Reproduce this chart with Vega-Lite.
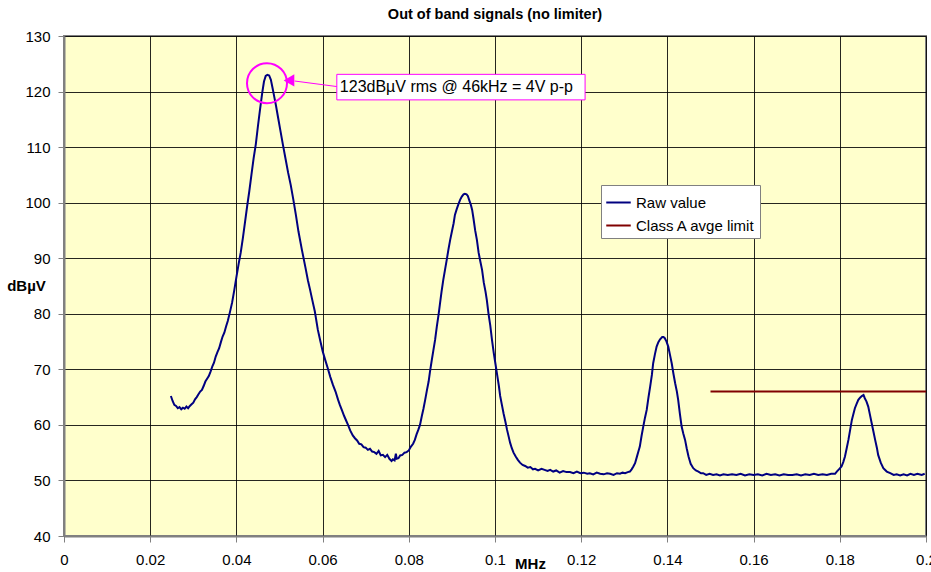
{
  "$schema": "https://vega.github.io/schema/vega-lite/v6.json",
  "autosize": {"type": "none"},
  "width": 862,
  "height": 500,
  "padding": {"left": 64, "top": 36, "right": 5, "bottom": 36},
  "background": "#FFFFFF",
  "title": {"text": "Out of band signals (no limiter)", "font": "Liberation Sans", "fontSize": 14.5, "fontWeight": "bold", "color": "#000000", "offset": 7},
  "config": {
    "view": {"fill": "#FFFFCC", "stroke": "#808080", "strokeWidth": 2},
    "axis": {"labelFont": "Liberation Sans", "labelFontSize": 15, "labelColor": "#000000", "titleFont": "Liberation Sans", "titleFontSize": 15, "titleFontWeight": "bold", "titleColor": "#000000", "domainColor": "#808080", "domainWidth": 2, "tickColor": "#808080", "tickWidth": 1, "tickSize": 6, "gridColor": "#000000", "gridOpacity": 0.85, "gridWidth": 1}
  },
  "datasets": {
    "raw": [
      {"f":0.0248,"v":65.2},{"f":0.0252,"v":64.3},{"f":0.0256,"v":63.6},{"f":0.0260,"v":63.4},{"f":0.0264,"v":63.0},{"f":0.0268,"v":63.2},{"f":0.0272,"v":62.8},{"f":0.0276,"v":63.1},{"f":0.0280,"v":62.9},{"f":0.0284,"v":63.3},{"f":0.0288,"v":63.0},{"f":0.0292,"v":63.4},{"f":0.0296,"v":63.7},{"f":0.0300,"v":64.0},{"f":0.0304,"v":64.6},{"f":0.0308,"v":65.0},{"f":0.0312,"v":65.5},{"f":0.0316,"v":66.0},{"f":0.0320,"v":66.3},{"f":0.0324,"v":67.0},{"f":0.0328,"v":67.8},{"f":0.0332,"v":68.3},{"f":0.0336,"v":68.8},{"f":0.0340,"v":69.6},{"f":0.0344,"v":70.5},{"f":0.0348,"v":71.2},{"f":0.0352,"v":72.3},{"f":0.0356,"v":73.1},{"f":0.0360,"v":73.8},{"f":0.0364,"v":74.9},{"f":0.0368,"v":75.9},{"f":0.0372,"v":76.6},{"f":0.0376,"v":77.7},{"f":0.0380,"v":78.7},{"f":0.0385,"v":80.3},{"f":0.0390,"v":82.0},{"f":0.0395,"v":84.2},{"f":0.0400,"v":86.6},{"f":0.0405,"v":88.9},{"f":0.0410,"v":91.0},{"f":0.0415,"v":93.6},{"f":0.0420,"v":96.5},{"f":0.0425,"v":99.4},{"f":0.0430,"v":102.1},{"f":0.0435,"v":105.1},{"f":0.0440,"v":108.0},{"f":0.0445,"v":110.5},{"f":0.0450,"v":113.8},{"f":0.0455,"v":116.9},{"f":0.0460,"v":119.8},{"f":0.0464,"v":121.8},{"f":0.0468,"v":122.8},{"f":0.0472,"v":123.0},{"f":0.0476,"v":122.9},{"f":0.0480,"v":122.1},{"f":0.0484,"v":120.6},{"f":0.0488,"v":119.0},{"f":0.0492,"v":117.4},{"f":0.0497,"v":115.2},{"f":0.0502,"v":113.0},{"f":0.0508,"v":110.4},{"f":0.0514,"v":107.9},{"f":0.0520,"v":105.4},{"f":0.0526,"v":103.2},{"f":0.0532,"v":100.6},{"f":0.0538,"v":97.8},{"f":0.0544,"v":94.8},{"f":0.0552,"v":91.5},{"f":0.0560,"v":88.4},{"f":0.0566,"v":86.0},{"f":0.0571,"v":84.3},{"f":0.0576,"v":82.5},{"f":0.0582,"v":80.4},{"f":0.0589,"v":77.1},{"f":0.0595,"v":75.0},{"f":0.0600,"v":73.3},{"f":0.0606,"v":71.7},{"f":0.0612,"v":70.2},{"f":0.0618,"v":68.6},{"f":0.0624,"v":67.2},{"f":0.0630,"v":66.0},{"f":0.0636,"v":64.5},{"f":0.0640,"v":63.6},{"f":0.0645,"v":62.6},{"f":0.0650,"v":61.6},{"f":0.0655,"v":60.7},{"f":0.0659,"v":60.0},{"f":0.0664,"v":59.0},{"f":0.0670,"v":58.1},{"f":0.0675,"v":57.6},{"f":0.0680,"v":57.2},{"f":0.0685,"v":56.6},{"f":0.0690,"v":56.5},{"f":0.0695,"v":56.0},{"f":0.0700,"v":55.9},{"f":0.0705,"v":55.5},{"f":0.0710,"v":55.7},{"f":0.0715,"v":55.2},{"f":0.0720,"v":55.1},{"f":0.0725,"v":54.8},{"f":0.0730,"v":55.3},{"f":0.0735,"v":54.5},{"f":0.0740,"v":54.6},{"f":0.0745,"v":54.2},{"f":0.0750,"v":54.6},{"f":0.0755,"v":53.9},{"f":0.0760,"v":53.5},{"f":0.0763,"v":53.8},{"f":0.0767,"v":53.6},{"f":0.0770,"v":54.8},{"f":0.0772,"v":53.9},{"f":0.0776,"v":54.0},{"f":0.0780,"v":54.5},{"f":0.0785,"v":54.6},{"f":0.0790,"v":55.0},{"f":0.0795,"v":55.1},{"f":0.0800,"v":55.4},{"f":0.0805,"v":56.1},{"f":0.0810,"v":56.6},{"f":0.0814,"v":57.3},{"f":0.0818,"v":58.3},{"f":0.0822,"v":59.1},{"f":0.0826,"v":60.0},{"f":0.0830,"v":61.5},{"f":0.0834,"v":62.9},{"f":0.0838,"v":64.5},{"f":0.0842,"v":66.2},{"f":0.0846,"v":67.8},{"f":0.0849,"v":69.5},{"f":0.0853,"v":71.5},{"f":0.0857,"v":73.4},{"f":0.0861,"v":75.3},{"f":0.0865,"v":77.7},{"f":0.0869,"v":79.8},{"f":0.0872,"v":81.6},{"f":0.0876,"v":84.0},{"f":0.0880,"v":86.1},{"f":0.0884,"v":87.9},{"f":0.0888,"v":89.7},{"f":0.0892,"v":91.6},{"f":0.0896,"v":93.3},{"f":0.0900,"v":94.8},{"f":0.0904,"v":96.3},{"f":0.0907,"v":97.8},{"f":0.0911,"v":98.8},{"f":0.0915,"v":99.7},{"f":0.0919,"v":100.5},{"f":0.0923,"v":101.1},{"f":0.0927,"v":101.5},{"f":0.0930,"v":101.6},{"f":0.0934,"v":101.5},{"f":0.0937,"v":101.2},{"f":0.0940,"v":100.5},{"f":0.0944,"v":99.6},{"f":0.0947,"v":98.7},{"f":0.0950,"v":97.2},{"f":0.0954,"v":95.0},{"f":0.0958,"v":93.3},{"f":0.0962,"v":91.0},{"f":0.0966,"v":89.4},{"f":0.0970,"v":87.9},{"f":0.0974,"v":85.6},{"f":0.0978,"v":84.0},{"f":0.0981,"v":82.5},{"f":0.0985,"v":80.0},{"f":0.0989,"v":77.9},{"f":0.0993,"v":75.3},{"f":0.0997,"v":73.0},{"f":0.1001,"v":71.0},{"f":0.1005,"v":69.0},{"f":0.1009,"v":67.0},{"f":0.1012,"v":65.2},{"f":0.1016,"v":63.6},{"f":0.1020,"v":62.0},{"f":0.1024,"v":60.6},{"f":0.1028,"v":59.1},{"f":0.1032,"v":57.8},{"f":0.1035,"v":56.8},{"f":0.1039,"v":55.8},{"f":0.1043,"v":55.0},{"f":0.1048,"v":54.3},{"f":0.1053,"v":53.7},{"f":0.1058,"v":53.2},{"f":0.1064,"v":52.8},{"f":0.1070,"v":52.6},{"f":0.1076,"v":52.3},{"f":0.1082,"v":52.4},{"f":0.1088,"v":52.0},{"f":0.1093,"v":52.1},{"f":0.1100,"v":51.8},{"f":0.1108,"v":52.1},{"f":0.1115,"v":51.9},{"f":0.1122,"v":51.7},{"f":0.1128,"v":51.9},{"f":0.1135,"v":51.6},{"f":0.1142,"v":51.8},{"f":0.1150,"v":51.4},{"f":0.1158,"v":51.7},{"f":0.1166,"v":51.5},{"f":0.1174,"v":51.5},{"f":0.1182,"v":51.3},{"f":0.1190,"v":51.6},{"f":0.1198,"v":51.3},{"f":0.1206,"v":51.4},{"f":0.1214,"v":51.2},{"f":0.1220,"v":51.3},{"f":0.1228,"v":51.1},{"f":0.1236,"v":51.4},{"f":0.1244,"v":51.2},{"f":0.1252,"v":51.1},{"f":0.1260,"v":51.3},{"f":0.1267,"v":51.2},{"f":0.1275,"v":51.0},{"f":0.1283,"v":51.3},{"f":0.1290,"v":51.2},{"f":0.1296,"v":51.4},{"f":0.1302,"v":51.3},{"f":0.1308,"v":51.5},{"f":0.1313,"v":51.6},{"f":0.1317,"v":52.0},{"f":0.1321,"v":52.5},{"f":0.1325,"v":53.1},{"f":0.1329,"v":54.2},{"f":0.1333,"v":55.3},{"f":0.1336,"v":56.1},{"f":0.1340,"v":58.0},{"f":0.1344,"v":59.7},{"f":0.1348,"v":61.3},{"f":0.1352,"v":62.7},{"f":0.1356,"v":64.9},{"f":0.1360,"v":66.9},{"f":0.1364,"v":69.0},{"f":0.1367,"v":71.1},{"f":0.1371,"v":72.7},{"f":0.1375,"v":74.1},{"f":0.1379,"v":74.9},{"f":0.1383,"v":75.4},{"f":0.1388,"v":75.8},{"f":0.1391,"v":75.8},{"f":0.1394,"v":75.6},{"f":0.1398,"v":75.0},{"f":0.1402,"v":74.1},{"f":0.1406,"v":72.6},{"f":0.1410,"v":71.1},{"f":0.1414,"v":69.2},{"f":0.1418,"v":67.5},{"f":0.1422,"v":66.0},{"f":0.1425,"v":64.5},{"f":0.1429,"v":62.0},{"f":0.1433,"v":59.7},{"f":0.1437,"v":58.4},{"f":0.1441,"v":57.3},{"f":0.1445,"v":55.7},{"f":0.1449,"v":54.3},{"f":0.1454,"v":53.0},{"f":0.1460,"v":52.2},{"f":0.1466,"v":51.8},{"f":0.1472,"v":51.6},{"f":0.1478,"v":51.3},{"f":0.1483,"v":51.3},{"f":0.1490,"v":51.0},{"f":0.1498,"v":51.2},{"f":0.1506,"v":51.0},{"f":0.1514,"v":51.1},{"f":0.1522,"v":50.9},{"f":0.1530,"v":51.1},{"f":0.1540,"v":51.0},{"f":0.1550,"v":51.1},{"f":0.1560,"v":51.0},{"f":0.1570,"v":51.2},{"f":0.1580,"v":50.9},{"f":0.1590,"v":51.1},{"f":0.1600,"v":51.0},{"f":0.1610,"v":51.1},{"f":0.1620,"v":50.9},{"f":0.1630,"v":51.2},{"f":0.1640,"v":51.0},{"f":0.1650,"v":51.1},{"f":0.1660,"v":50.9},{"f":0.1670,"v":51.1},{"f":0.1680,"v":51.0},{"f":0.1690,"v":51.0},{"f":0.1700,"v":51.1},{"f":0.1710,"v":50.9},{"f":0.1720,"v":51.1},{"f":0.1730,"v":51.0},{"f":0.1740,"v":51.2},{"f":0.1750,"v":51.0},{"f":0.1760,"v":51.1},{"f":0.1770,"v":51.0},{"f":0.1780,"v":51.2},{"f":0.1789,"v":51.2},{"f":0.1793,"v":51.6},{"f":0.1798,"v":52.0},{"f":0.1804,"v":52.5},{"f":0.1808,"v":53.3},{"f":0.1812,"v":54.3},{"f":0.1816,"v":55.8},{"f":0.1820,"v":57.3},{"f":0.1824,"v":59.1},{"f":0.1828,"v":60.9},{"f":0.1832,"v":62.1},{"f":0.1835,"v":63.0},{"f":0.1839,"v":63.8},{"f":0.1843,"v":64.5},{"f":0.1847,"v":64.9},{"f":0.1851,"v":65.2},{"f":0.1855,"v":65.4},{"f":0.1858,"v":64.8},{"f":0.1862,"v":64.2},{"f":0.1866,"v":63.3},{"f":0.1870,"v":61.8},{"f":0.1874,"v":60.3},{"f":0.1878,"v":58.8},{"f":0.1882,"v":57.3},{"f":0.1886,"v":55.9},{"f":0.1889,"v":54.6},{"f":0.1895,"v":53.2},{"f":0.1901,"v":52.2},{"f":0.1909,"v":51.6},{"f":0.1917,"v":51.3},{"f":0.1925,"v":51.0},{"f":0.1932,"v":51.1},{"f":0.1940,"v":50.9},{"f":0.1948,"v":51.1},{"f":0.1956,"v":50.9},{"f":0.1964,"v":51.2},{"f":0.1972,"v":51.0},{"f":0.1980,"v":51.2},{"f":0.1990,"v":51.0},{"f":0.1997,"v":51.2}
    ],
    "limit": [{"f": 0.15, "v": 66}, {"f": 0.2, "v": 66}]
  },
  "encoding": {
    "x": {"type": "quantitative", "scale": {"domain": [0, 0.2], "nice": false, "zero": false},
      "axis": {"values": [0, 0.02, 0.04, 0.06, 0.08, 0.1, 0.12, 0.14, 0.16, 0.18, 0.2], "format": "~g", "labelPadding": 10, "labelFlush": false, "labelOverlap": false,
        "title": "MHz", "titleX": 466, "titleY": 27, "titleBaseline": "middle", "titleAnchor": null}},
    "y": {"type": "quantitative", "scale": {"domain": [40, 130], "nice": false, "zero": false},
      "axis": {"values": [40, 50, 60, 70, 80, 90, 100, 110, 120, 130], "labelPadding": 8, "labelFlush": false,
        "title": "dBµV", "titleAngle": 0, "titleX": -38, "titleY": 249, "titleAlign": "center", "titleBaseline": "middle"}}
  },
  "layer": [
    {
      "data": {"name": "raw"},
      "mark": {"type": "line", "strokeWidth": 2, "interpolate": "linear"},
      "encoding": {
        "x": {"field": "f", "type": "quantitative"},
        "y": {"field": "v", "type": "quantitative"},
        "color": {"datum": "Raw value", "type": "nominal",
          "scale": {"domain": ["Raw value", "Class A avge limit"], "range": ["#000080", "#800000"]},
          "legend": {"title": null, "orient": "none", "legendX": 537, "legendY": 149, "symbolType": "stroke", "symbolSize": 600, "symbolStrokeWidth": 2, "labelFont": "Liberation Sans", "labelFontSize": 15, "labelColor": "#000000", "fillColor": "#FFFFFF", "strokeColor": "#808080", "padding": 4, "rowPadding": 1, "labelOffset": 4}}
      }
    },
    {
      "data": {"name": "limit"},
      "mark": {"type": "line", "strokeWidth": 2},
      "encoding": {
        "x": {"field": "f", "type": "quantitative"},
        "y": {"field": "v", "type": "quantitative"},
        "color": {"datum": "Class A avge limit", "type": "nominal"}
      }
    },
    {
      "data": {"values": [{}]},
      "mark": {"type": "point", "shape": "circle", "size": 1600, "stroke": "#FF00FF", "strokeWidth": 2, "filled": false, "opacity": 1},
      "encoding": {"x": {"datum": 0.0471}, "y": {"datum": 121.5}}
    },
    {
      "data": {"values": [{}]},
      "mark": {"type": "rule", "color": "#FF00FF", "strokeWidth": 1},
      "encoding": {"x": {"datum": 0.0535}, "y": {"datum": 121.9}, "x2": {"datum": 0.0633}, "y2": {"datum": 120.9}}
    },
    {
      "data": {"values": [{}]},
      "mark": {"type": "point", "shape": "triangle-left", "size": 150, "fill": "#FF00FF", "filled": true, "opacity": 1, "strokeWidth": 0},
      "encoding": {"x": {"datum": 0.0522}, "y": {"datum": 122.0}}
    },
    {
      "data": {"values": [{}]},
      "mark": {"type": "rect", "fill": "#FFFFFF", "stroke": "#FF00FF", "strokeWidth": 1},
      "encoding": {"x": {"datum": 0.0633}, "x2": {"datum": 0.1209}, "y": {"datum": 123.1}, "y2": {"datum": 118.5}}
    },
    {
      "data": {"values": [{}]},
      "mark": {"type": "text", "text": "123dBµV rms @ 46kHz = 4V p-p", "align": "left", "baseline": "middle", "font": "Liberation Sans", "fontSize": 16, "color": "#000000"},
      "encoding": {"x": {"datum": 0.0640}, "y": {"datum": 120.8}}
    }
  ]
}
